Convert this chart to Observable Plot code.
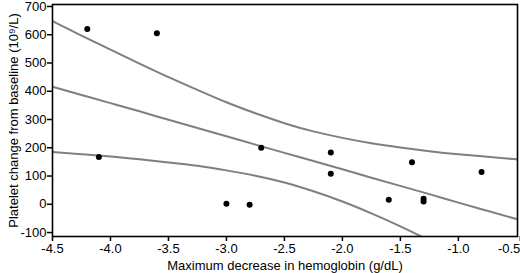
<!DOCTYPE html>
<html>
<head>
<meta charset="utf-8">
<script src="https://cdn.jsdelivr.net/npm/d3@7"></script>
<script src="https://cdn.jsdelivr.net/npm/@observablehq/plot@0.6"></script>
<style>
  html, body { margin: 0; padding: 0; background: #fff; }
  svg { display: block; }
</style>
</head>
<body>
<div id="chart"></div>
<script>
// Observed points
const hbDecrease = [-4.2, -4.1, -3.6, -3.0, -2.8, -2.7, -2.1, -2.1, -1.6, -1.4, -1.3, -1.3, -0.8];
const plateletChange = [620, 167, 605, 2, -2, 200, 183, 108, 16, 149, 20, 10, 114];

// Fitted line and confidence band
const curveX = [-4.5, -4.25, -4.0, -3.75, -3.5, -3.25, -3.0, -2.75, -2.5, -2.25, -2.0, -1.75, -1.5, -1.25, -1.0, -0.75, -0.5];
const fitY   = [416, 387, 358, 329, 299, 270, 241, 211, 182, 153, 124, 94, 65, 36, 6, -23, -52];
const upperY = [648, 597, 547, 498, 450, 405, 361, 322, 287, 258, 235, 216, 201, 188, 177, 168, 159];
const lowerY = [185, 177, 169, 159, 148, 136, 120, 101, 77, 46, 10, -32, -78, -128, -180, -232, -284];

const xTicks = [-4.5, -4.0, -3.5, -3.0, -2.5, -2.0, -1.5, -1.0];
const xLastTick = [-0.5];
const yTicks = [-100, 0, 100, 200, 300, 400, 500, 600, 700];

const points = hbDecrease.map((x, i) => ({x, y: plateletChange[i]}));
const curves = [
  ...curveX.map((x, i) => ({x, y: fitY[i], k: "fit"})),
  ...curveX.map((x, i) => ({x, y: upperY[i], k: "upper"})),
  ...curveX.map((x, i) => ({x, y: lowerY[i], k: "lower"}))
];

const chart = Plot.plot({
  width: 520,
  height: 273,
  marginLeft: 52,
  marginRight: 3,
  marginTop: 4,
  marginBottom: 37,
  style: {fontFamily: "'Liberation Sans', Arial, sans-serif", fontSize: "13px", color: "#000", background: "#fff"},
  x: {domain: [-4.5, -0.49]},
  y: {domain: [-114, 707]},
  marks: [
    Plot.line(curves, {x: "x", y: "y", z: "k", stroke: "#7f7f7f", strokeWidth: 2, curve: "natural", clip: true}),
    Plot.dot(points, {x: "x", y: "y", r: 3, fill: "#000", stroke: "none"}),
    Plot.frame({stroke: "#000", strokeWidth: 1.6}),
    Plot.axisX({ticks: xTicks, tickFormat: d => d.toFixed(1), tickSize: 5, tickPadding: 2, strokeWidth: 1.5,
      label: "Maximum decrease in hemoglobin (g/dL)", labelAnchor: "center", labelArrow: "none", labelOffset: 33, fontSize: 13}),
    Plot.axisX({ticks: xLastTick, tickFormat: d => d.toFixed(1), tickSize: 5, tickPadding: 2, strokeWidth: 1.5,
      textAnchor: "end", dx: 4, label: null, fontSize: 13}),
    Plot.axisY({ticks: yTicks, tickFormat: d => String(d), tickSize: 5, tickPadding: 1, strokeWidth: 1.5,
      label: "Platelet change from baseline (10⁹/L)", labelAnchor: "center", labelArrow: "none", labelOffset: 44, fontSize: 13})
  ]
});
document.getElementById("chart").appendChild(chart);
</script>
</body>
</html>
